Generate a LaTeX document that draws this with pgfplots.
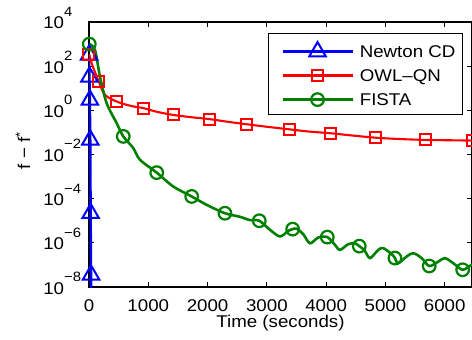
\documentclass[border=0pt]{standalone}
\usepackage{fontspec}
\setmainfont[FakeStretch=1.1]{Liberation Sans}
\usepackage{pgfplots}
\usepackage{pgfplotstable}
\pgfplotsset{compat=1.18}
\definecolor{mblue}{RGB}{0,0,255}
\definecolor{mred}{RGB}{255,0,0}
\definecolor{mgreen}{RGB}{0,128,0}
\newcommand\expo[1]{10\rlap{\raisebox{12.5pt}{\fontsize{13.5}{13.5}\selectfont #1}}}
\pgfplotsset{fistalegend/.style={legend image code/.code={%
    \path (-6pt,0pt);
    \draw[mgreen, line width=2.6pt] (0pt,0pt) -- (70pt,0pt);
    \draw[##1] plot coordinates {(35pt,0pt)};}}}
\pgfplotstableread{
t v
5 1000
101 537
185 33.9
298 2.09
467 0.263
578 0.0661
747 0.0195
860 0.00575
1142 1.51e-3
1422 3.55e-4
1732 1.26e-4
1985 5.25e-5
2293 2.19e-5
2546 1.51e-5
2715 1.07e-5
2872 1.0e-5
3052 3.89e-6
3221 1.95e-6
3361 3.47e-6
3435 4.17e-6
3503 4.37e-6
3614 2.45e-6
3727 9.55e-7
3867 1.74e-6
4019 1.82e-6
4148 8.13e-7
4233 4.79e-7
4373 8.71e-7
4486 9.55e-7
4559 7.08e-7
4650 4.47e-7
4739 2.04e-7
4879 4.79e-7
4963 5.75e-7
5105 3.09e-7
5160 2.04e-7
5216 1.20e-7
5358 2.40e-7
5469 3.39e-7
5611 2.04e-7
5739 8.91e-8
5891 1.41e-7
6003 2.04e-7
6143 1.20e-7
6302 6.03e-8
6454 1.0e-7
6600 1.26e-7
}\fista
\begin{document}
\begin{tikzpicture}[font=\fontsize{17}{20}\selectfont]
\useasboundingbox (-89pt,-53pt) rectangle (383pt,287pt);
\begin{axis}[
  scale only axis, width=383pt, height=265pt,
  xmin=0, xmax=6460, ymode=log, ymin=1e-8, ymax=1e4,
  xtick={0,1000,2000,3000,4000,5000,6000},
  xticklabels={0,1000,2000,3000,4000,5000,6000},
  ytick={1e-8,1e-6,1e-4,1e-2,1,1e2,1e4},
  yticklabels={\expo{−8},\expo{−6},\expo{−4},\expo{−2},\expo{0},\expo{2},\expo{4}},
  yminorticks=false, xminorticks=false,
  tick pos=both, tick align=inside, major tick length=5pt,
  tick style={black, line width=0.9pt},
  axis line style={line width=1.2pt},
  xticklabel style={anchor=base, yshift=-24.5pt, inner sep=0pt},
  yticklabel style={anchor=base east, inner sep=0pt, xshift=-24.7pt, yshift=-7pt},
  legend image code/.code={%
    \path (-6pt,0pt);
    \draw[#1,mark=none] (0pt,0pt) -- (70pt,0pt);
    \draw[#1] plot coordinates {(35pt,0pt)};},
  legend cell align=left,
  legend style={at={(rel axis cs:0.9765,0.9585)}, anchor=north east,
    draw=black, line width=1.1pt, fill=white,
    inner xsep=7pt, inner ysep=8.5pt, row sep=11.5pt, column sep=6pt,
    nodes={inner sep=0pt, text height=12.5pt, text depth=0pt}},
]
% Newton CD
\addplot[mblue, line width=2.4pt, mark=triangle, mark size=9.5pt,
  mark options={solid, line width=2pt}, mark indices={1,2,3,4,5,6}]
  coordinates {(2,324) (8,33.1) (15,2.95) (22,0.0457) (28,2.19e-5) (35,3.55e-8) (40,1e-10)};
\addlegendentry{Newton CD}
% OWL-QN
\addplot[mred, line width=2.1pt, smooth, mark=square, mark size=5.5pt,
  mark options={solid, line width=2pt}, mark repeat=2, mark phase=1]
  coordinates {(0,355) (45,135) (165,20.0) (270,5.0) (467,2.51) (700,1.6)
  (916,1.26) (1150,0.85) (1421,0.617) (1750,0.48) (2040,0.398) (2350,0.30)
  (2660,0.234) (3000,0.18) (3378,0.138) (3700,0.11) (4081,0.0912) (4450,0.072)
  (4840,0.0575) (5250,0.050) (5678,0.0457) (6100,0.0440) (6460,0.0427) (6600,0.042)};
\addlegendentry{OWL–QN}
% FISTA line
\addplot[draw=mgreen, line width=2.6pt, smooth, mark=none, forget plot] table[x=t,y=v] {\fista};
% FISTA markers
\addplot[mgreen, only marks, mark=o, mark size=6.3pt,
  mark options={solid, line width=2.2pt},
  mark indices={1,6,9,11,13,16,20,25,30,36,41,45}, fistalegend]
  table[x=t,y=v] {\fista};
\addlegendentry{FISTA}
\end{axis}
\node[rotate=90] at (-66pt,136.5pt) {f − f\textsuperscript{*}};
\node[anchor=base] at (191.5pt,-40.5pt) {Time (seconds)};
\end{tikzpicture}
\end{document}
